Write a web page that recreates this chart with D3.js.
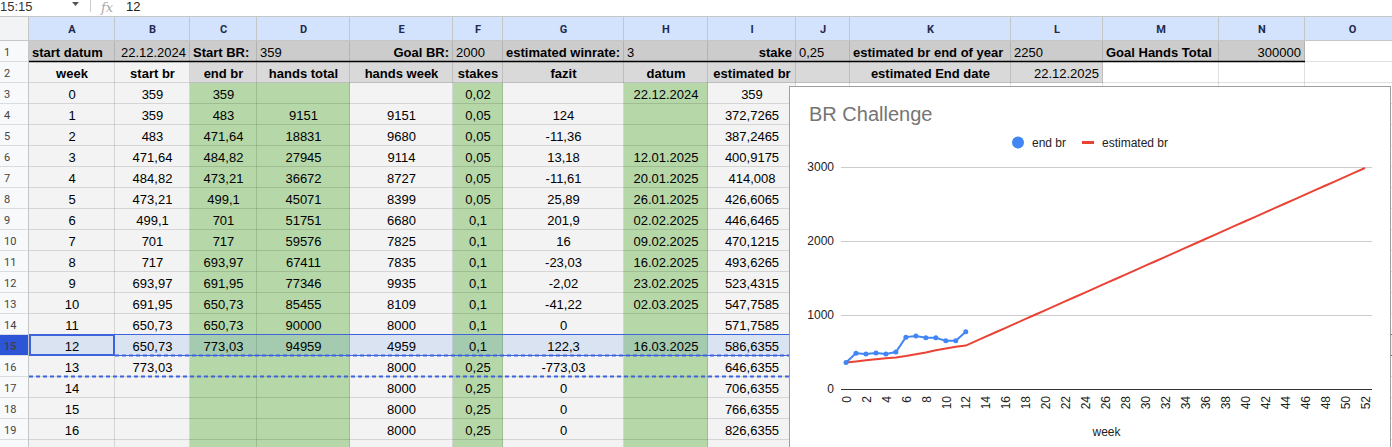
<!DOCTYPE html>
<html lang="en">
<head>
<meta charset="UTF-8">
<title>BR Challenge</title>
<style>
  body, html { margin: 0; padding: 0; background: #fff; overflow: hidden; }
  svg { display: block; font-family: Arial, "Liberation Sans", sans-serif; }
  .cell { font-size: 13px; fill: #000; }
  .colhead { font-family: Roboto, Arial, sans-serif; font-size: 11px; font-weight: bold; fill: #1f2a4d; }
  .rowhead { font-family: Roboto, Arial, sans-serif; font-size: 11px; fill: #444; }
  .axis text { font-family: Arial, "Liberation Sans", sans-serif; font-size: 12px; fill: #222; }
</style>
</head>
<body>
<svg id="sheet" width="1392" height="447"></svg>
<script src="https://d3js.org/d3.v7.min.js"></script>
<script>
// ---- sheet content ----
const columns = ["A","B","C","D","E","F","G","H","I","J","K","L","M","N","O"];
const headerRow1 = ["start datum","22.12.2024","Start BR:","359","Goal BR:","2000","estimated winrate:","3","stake","0,25","estimated br end of year","2250","Goal Hands Total","300000"];
const headerRow2 = ["week","start br","end br","hands total","hands week","stakes","fazit","datum","estimated br","","estimated End date","22.12.2025"];

// table rows 3..20 (week 0..17)
const weeks      = [0,1,2,3,4,5,6,7,8,9,10,11,12,13,14,15,16,17];
const startBr    = [359,359,483,471.64,484.82,473.21,499.1,701,717,693.97,691.95,650.73,650.73,773.03,null,null,null,null];
const endBr      = [359,483,471.64,484.82,473.21,499.1,701,717,693.97,691.95,650.73,650.73,773.03];
const handsTotal = [null,9151,18831,27945,36672,45071,51751,59576,67411,77346,85455,90000,94959];
const handsWeek  = [null,9151,9680,9114,8727,8399,6680,7825,7835,9935,8109,8000,4959,8000,8000,8000,8000,8000];
const stakes     = [0.02,0.05,0.05,0.05,0.05,0.05,0.1,0.1,0.1,0.1,0.1,0.1,0.1,0.25,0.25,0.25,0.25,0.25];
const fazit      = [null,124,-11.36,13.18,-11.61,25.89,201.9,16,-23.03,-2.02,-41.22,0,122.3,-773.03,0,0,0,0];
const datum      = ["22.12.2024","","","12.01.2025","20.01.2025","26.01.2025","02.02.2025","09.02.2025","16.02.2025","23.02.2025","02.03.2025","","16.03.2025","","","","",""];

// chart series (week 0..52)
const chartWeeks = [0,1,2,3,4,5,6,7,8,9,10,11,12,13,14,15,16,17,18,19,20,21,22,23,24,25,26,27,28,29,30,31,32,33,34,35,36,37,38,39,40,41,42,43,44,45,46,47,48,49,50,51,52];
const estimatedBr = [359,372.7265,387.2465,400.9175,414.008,426.6065,446.6465,470.1215,493.6265,523.4315,547.7585,571.7585,586.6355,
  646.6355,706.6355,766.6355,826.6355,886.6355,946.6355,1006.6355,1066.6355,1126.6355,1186.6355,1246.6355,1306.6355,1366.6355,
  1426.6355,1486.6355,1546.6355,1606.6355,1666.6355,1726.6355,1786.6355,1846.6355,1906.6355,1966.6355,2026.6355,2086.6355,
  2146.6355,2206.6355,2266.6355,2326.6355,2386.6355,2446.6355,2506.6355,2566.6355,2626.6355,2686.6355,2746.6355,2806.6355,
  2866.6355,2926.6355,2986.6355];
const xTicks = [0,2,4,6,8,10,12,14,16,18,20,22,24,26,28,30,32,34,36,38,40,42,44,46,48,50,52];
const yTicks = [0,1000,2000,3000];

// ---- layout ----
const colEdges = [29,115,190,257,350,453,503,624,708,796,850,1011,1103,1219,1305,1400];
const headTop = 17, headH = 24, rowTop = 41, rowH = 21;
const rowY = r => rowTop + (r - 1) * rowH;   // r = sheet row number
// numbers get a decimal comma, date strings stay as they are
const fmt = v => (v == null ? "" : typeof v === "number" ? String(v).replace(".", ",") : v);

const svg = d3.select("#sheet");

// formula bar
svg.append("text").attr("x", 0).attr("y", 11).attr("font-size", 13).attr("fill", "#333").text("15:15");
svg.append("path").attr("d", "M72,2 L79,2 L75.5,6 Z").attr("fill", "#555");
svg.append("line").attr("x1", 90.5).attr("x2", 90.5).attr("y1", 0).attr("y2", 12).attr("stroke", "#ccc");
svg.append("text").attr("x", 101).attr("y", 12).attr("font-size", 13).attr("font-style", "italic")
  .attr("font-family", "'DejaVu Serif', serif").attr("fill", "#aaa").text("fx");
svg.append("text").attr("x", 126).attr("y", 11).attr("font-size", 13).attr("fill", "#222").text("12");
svg.append("line").attr("x1", 0).attr("x2", 1392).attr("y1", headTop - 0.5).attr("y2", headTop - 0.5).attr("stroke", "#c4c7c5");

// build cell list
const cells = [];
function fillFor(r, c) {
  if (r === 1) return c <= 13 ? "#cccccc" : "#ffffff";
  if (r === 2) return c <= 1 ? "#f3f3f3" : (c <= 11 ? "#d9d9d9" : "#ffffff");
  if ([2,3,5,7].includes(c)) return "#b6d7a8";
  if ([0,1,4,6,8].includes(c)) return "#f3f3f3";
  return "#ffffff";
}
const row1Align = ["start","end","start","start","end","start","start","start","end","start","start","start","start","end"];
const row1Bold  = [true,false,true,false,true,false,true,false,true,false,true,false,true,false];
for (let r = 1; r <= 20; r++) {
  for (let c = 0; c < columns.length; c++) {
    let text = "", align = "middle", bold = false;
    if (r === 1 && c < headerRow1.length) { text = headerRow1[c]; align = row1Align[c]; bold = row1Bold[c]; }
    else if (r === 2 && c < headerRow2.length) { text = headerRow2[c]; bold = c !== 11; align = c === 11 ? "end" : "middle"; }
    else if (r >= 3) {
      const i = r - 3;
      const vals = [weeks[i], startBr[i], endBr[i], handsTotal[i], handsWeek[i], stakes[i], fazit[i], datum[i], estimatedBr[i]];
      if (c < vals.length) text = fmt(vals[c]);
    }
    cells.push({ r, c, text, align, bold, fill: fillFor(r, c) });
  }
}

const grid = svg.append("g");
grid.selectAll("rect.bg").data(cells).join("rect")
  .attr("x", d => colEdges[d.c]).attr("y", d => rowY(d.r))
  .attr("width", d => colEdges[d.c + 1] - colEdges[d.c]).attr("height", rowH)
  .attr("fill", d => d.fill);

// grid lines
const gl = grid.append("g").attr("stroke", "rgba(0,0,0,0.12)").attr("stroke-width", 1);
for (let r = 1; r <= 21; r++) {
  gl.append("line").attr("x1", 29).attr("x2", 1392).attr("y1", rowY(r) - 0.5).attr("y2", rowY(r) - 0.5);
}
colEdges.forEach(x => gl.append("line").attr("x1", x - 0.5).attr("x2", x - 0.5).attr("y1", rowTop).attr("y2", 447));

// row 1 bottom border
grid.append("line").attr("x1", 29).attr("x2", colEdges[14]).attr("y1", rowY(2) - 0.5).attr("y2", rowY(2) - 0.5)
  .attr("stroke", "#000").attr("stroke-width", 1.5);

// row 15 selection tint
grid.append("rect").attr("x", 29).attr("y", rowY(15)).attr("width", 1392 - 29).attr("height", rowH)
  .attr("fill", "rgba(14,101,235,0.11)");

// cell texts
grid.selectAll("text.cell").data(cells.filter(d => d.text !== "")).join("text")
  .attr("class", "cell")
  .attr("x", d => d.align === "start" ? colEdges[d.c] + 3 : d.align === "end" ? colEdges[d.c + 1] - 4 : (colEdges[d.c] + colEdges[d.c + 1]) / 2)
  .attr("y", d => rowY(d.r) + 16)
  .attr("text-anchor", d => d.align)
  .attr("font-weight", d => d.bold ? "bold" : "normal")
  .text(d => d.text);

// selection borders
grid.append("rect").attr("x", 29.5).attr("y", rowY(15) - 0.5).attr("width", 1392).attr("height", rowH)
  .attr("fill", "none").attr("stroke", "#3d63dd").attr("stroke-width", 1);
grid.append("rect").attr("x", 30).attr("y", rowY(15)).attr("width", colEdges[1] - 31).attr("height", rowH - 1)
  .attr("fill", "none").attr("stroke", "#3d63dd").attr("stroke-width", 2);
grid.append("line").attr("x1", colEdges[1]).attr("x2", 792).attr("y1", rowY(16) - 0.5).attr("y2", rowY(16) - 0.5)
  .attr("stroke", "#3d63dd").attr("stroke-width", 2).attr("stroke-dasharray", "4,3");
grid.append("line").attr("x1", 29).attr("x2", 792).attr("y1", rowY(17) - 0.5).attr("y2", rowY(17) - 0.5)
  .attr("stroke", "#3d63dd").attr("stroke-width", 2).attr("stroke-dasharray", "4,3");

// column headers
const ch = svg.append("g");
ch.append("rect").attr("x", 0).attr("y", headTop).attr("width", 29).attr("height", headH).attr("fill", "#f1f3f4");
ch.selectAll("rect.h").data(columns).join("rect")
  .attr("x", (d, i) => colEdges[i]).attr("y", headTop)
  .attr("width", (d, i) => colEdges[i + 1] - colEdges[i]).attr("height", headH).attr("fill", "#d3e3fd");
ch.selectAll("line.h").data(colEdges).join("line")
  .attr("x1", d => d - 0.5).attr("x2", d => d - 0.5).attr("y1", headTop).attr("y2", headTop + headH)
  .attr("stroke", "#c4c7c5");
ch.append("line").attr("x1", 0).attr("x2", 1392).attr("y1", headTop + headH - 0.5).attr("y2", headTop + headH - 0.5)
  .attr("stroke", "#c4c7c5");
ch.selectAll("text").data(columns).join("text").attr("class", "colhead")
  .attr("x", (d, i) => (colEdges[i] + colEdges[i + 1]) / 2).attr("y", headTop + 16)
  .attr("text-anchor", "middle").text(d => d);

// row headers
const rh = svg.append("g");
const rowNums = d3.range(1, 21);
rh.selectAll("rect").data(rowNums).join("rect")
  .attr("x", 0).attr("y", d => rowY(d)).attr("width", 29).attr("height", rowH)
  .attr("fill", d => d === 15 ? "#2c55d8" : "#f8f9fa");
rh.selectAll("line").data(rowNums).join("line")
  .attr("x1", 0).attr("x2", 29).attr("y1", d => rowY(d + 1) - 0.5).attr("y2", d => rowY(d + 1) - 0.5)
  .attr("stroke", "#dadce0");
rh.append("line").attr("x1", 28.5).attr("x2", 28.5).attr("y1", headTop).attr("y2", 447).attr("stroke", "#c4c7c5");
rh.selectAll("text").data(rowNums).join("text").attr("class", "rowhead")
  .attr("x", 4).attr("y", d => rowY(d) + 15)
  .attr("fill", d => d === 15 ? "#fff" : "#444")
  .attr("font-weight", d => d === 15 ? "bold" : "normal")
  .text(d => d);

// ---- embedded chart ----
const chart = svg.append("g");
chart.append("rect").attr("x", 789.5).attr("y", 86.5).attr("width", 601).attr("height", 380)
  .attr("fill", "#fff").attr("stroke", "#9e9e9e");

const x = d3.scaleLinear().domain([0, 52]).range([846, 1365]);
const y = d3.scaleLinear().domain([0, 3000]).range([389, 167]);
const plotL = 841, plotR = 1372;

chart.append("text").attr("x", 809).attr("y", 121).attr("font-size", 20).attr("fill", "#757575").text("BR Challenge");

// legend
chart.append("circle").attr("cx", 1018).attr("cy", 142.5).attr("r", 6).attr("fill", "#4285f4");
chart.append("text").attr("x", 1032).attr("y", 147).attr("font-size", 12).attr("fill", "#222").text("end br");
chart.append("rect").attr("x", 1082).attr("y", 141).attr("width", 12).attr("height", 3).attr("fill", "#ea4335");
chart.append("text").attr("x", 1102).attr("y", 147).attr("font-size", 12).attr("fill", "#222").text("estimated br");

// y axis with gridlines
const yAxis = chart.append("g").attr("class", "axis").attr("transform", `translate(${plotL},0)`)
  .call(d3.axisLeft(y).tickValues(yTicks).tickSize(-(plotR - plotL)).tickPadding(7).tickFormat(d3.format("d")));
yAxis.select(".domain").remove();
yAxis.selectAll(".tick line").attr("stroke", "#cccccc");
yAxis.selectAll(".tick").filter(d => d === 0).select("line").attr("stroke", "#333");

// x axis
const xAxis = chart.append("g").attr("class", "axis").attr("transform", `translate(0,${y(0)})`)
  .call(d3.axisBottom(x).tickValues(xTicks).tickSize(0));
xAxis.select(".domain").remove();
xAxis.selectAll(".tick text")
  .attr("transform", "rotate(-90)").attr("text-anchor", "end")
  .attr("x", -7).attr("y", 0).attr("dy", "0.35em");

chart.append("text").attr("x", (plotL + plotR) / 2).attr("y", 436).attr("text-anchor", "middle")
  .attr("font-size", 12).attr("fill", "#222").text("week");

// series
const estData = chartWeeks.map((w, i) => ({ w, v: estimatedBr[i] }));
const endData = endBr.map((v, i) => ({ w: chartWeeks[i], v }));
const line = d3.line().x(d => x(d.w)).y(d => y(d.v));

chart.append("path").datum(estData).attr("d", line)
  .attr("fill", "none").attr("stroke", "#ea4335").attr("stroke-width", 2);
chart.append("path").datum(endData).attr("d", line)
  .attr("fill", "none").attr("stroke", "#4285f4").attr("stroke-width", 2);
chart.selectAll("circle.pt").data(endData).join("circle").attr("class", "pt")
  .attr("cx", d => x(d.w)).attr("cy", d => y(d.v)).attr("r", 2.5).attr("fill", "#4285f4");
</script>
</body>
</html>
